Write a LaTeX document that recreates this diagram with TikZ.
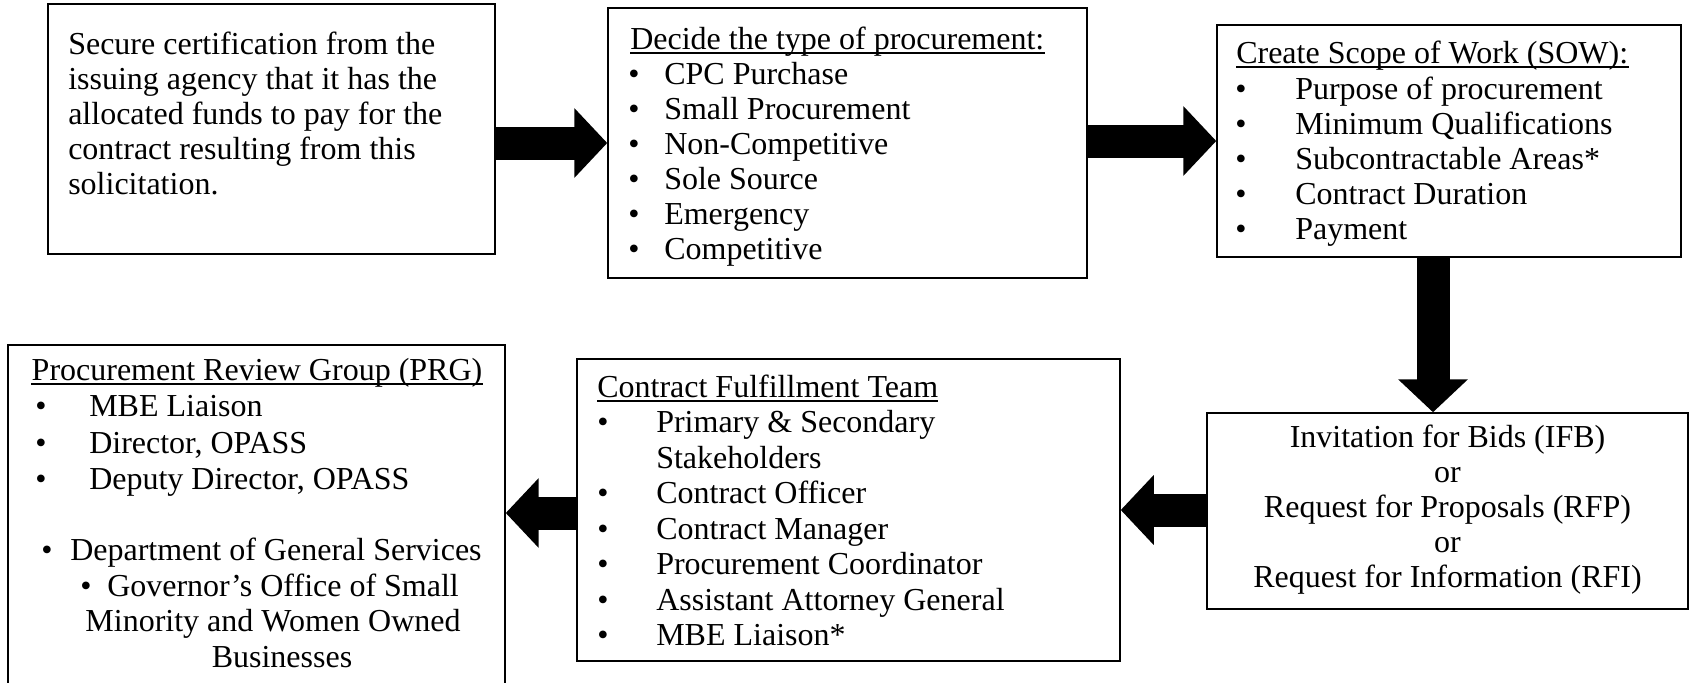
\documentclass[tikz,border=0pt]{standalone}
\usepackage{fontspec}
\setmainfont{Liberation Serif}
\usetikzlibrary{arrows.meta,fit,calc}
\tikzset{
  box/.style={draw, line width=1.1pt, inner sep=0pt},
  txt/.style={inner sep=0pt, font=\fontsize{24pt}{28pt}\selectfont, anchor=base west},
  ctxt/.style={txt, anchor=base},
  bul/.style={txt, anchor=base},
  ul/.style={line width=0.9pt},
  flow/.style={line width=24.75pt, -{Triangle[length=24.75pt,width=51pt]}},
}
\newcommand{\headline}[1]{\draw[ul] ([yshift=-3pt]#1.base west) -- ([yshift=-3pt]#1.base east);}
\begin{document}
\begin{tikzpicture}[x=0.75pt,y=-0.75pt]
\useasboundingbox (0,0) rectangle (1690,682);

% boxes
\node[box, fit={(48,4) (495,254)}] (b1) {};
\node[box, fit={(608,8) (1087,278)}] (b2) {};
\node[box, fit={(1217,25) (1681,257)}] (b3) {};
\node[box, fit={(1207,413) (1688,609)}] (b4) {};
\node[box, fit={(577,359) (1120,661)}] (b5) {};
\node[box, fit={(8,345) (505,692)}] (b6) {};

% certification
\node[txt] (t1a) at (68,54)  {Secure certification from the};
\node[txt] (t1b) at (68,89)  {issuing agency that it has the};
\node[txt] (t1c) at (68,124) {allocated funds to pay for the};
\node[txt] (t1d) at (68,159) {contract resulting from this};
\node[txt] (t1e) at (68,194) {solicitation.};

% type of procurement
\node[txt] (h2) at (630,49) {Decide the type of procurement:};
\headline{h2}
\foreach \yy/\lab [count=\i] in {84/CPC Purchase,119/Small Procurement,154/Non-Competitive,189/Sole Source,224/Emergency,259/Competitive}{
  \node[bul] (d2-\i) at (634,\yy) {•};
  \node[txt] (t2-\i) at (664,\yy) {\lab};
}

% scope of work
\node[txt] (h3) at (1236,63) {Create Scope of Work (SOW):};
\headline{h3}
\foreach \yy/\lab [count=\i] in {99/Purpose of procurement,134/Minimum Qualifications,169/Subcontractable Areas*,204/Contract Duration,239/Payment}{
  \node[bul] (d3-\i) at (1241,\yy) {•};
  \node[txt] (t3-\i) at (1295,\yy) {\lab};
}

% solicitation types
\node[ctxt] (t4a) at (1447.5,447) {Invitation for Bids (IFB)};
\node[ctxt] (t4b) at (1447.5,482) {or};
\node[ctxt] (t4c) at (1447.5,517) {Request for Proposals (RFP)};
\node[ctxt] (t4d) at (1447.5,552) {or};
\node[ctxt] (t4e) at (1447.5,587) {Request for Information (RFI)};

% contract fulfillment team
\node[txt] (h5) at (597,397) {Contract Fulfillment Team};
\headline{h5}
\node[bul] (d5-1) at (603,432.5) {•};
\node[txt] (t5-1) at (656,432.5) {Primary \& Secondary};
\node[txt] (t5-1b) at (656,468) {Stakeholders};
\foreach \yy/\lab [count=\i from 2] in {503.5/Contract Officer,539/Contract Manager,574.5/Procurement Coordinator,610/Assistant Attorney General,645.5/MBE Liaison*}{
  \node[bul] (d5-\i) at (603,\yy) {•};
  \node[txt] (t5-\i) at (656,\yy) {\lab};
}

% procurement review group
\node[ctxt] (h6) at (257,380) {Procurement Review Group (PRG)};
\headline{h6}
\foreach \yy/\lab [count=\i] in {416/MBE Liaison,453/{Director, OPASS},489.5/{Deputy Director, OPASS}}{
  \node[bul] (d6-\i) at (41,\yy) {•};
  \node[txt] (t6-\i) at (89,\yy) {\lab};
}
\node[bul] (d6-4) at (47,560.5) {•};
\node[txt] (t6-4) at (70,560.5) {Department of General Services};
\node[bul] (d6-5) at (86,596) {•};
\node[txt] (t6-5) at (107,596) {Governor’s Office of Small};
\node[ctxt] (t6-6) at (273,631.5) {Minority and Women Owned};
\node[ctxt] (t6-7) at (282,667) {Businesses};

% flow arrows
\coordinate (x3) at (1433,0);
\coordinate (s5) at ($(b5.west)+(0,3)$);
\draw[flow] (b1.east |- b2.west) -- (b2.west);
\draw[flow] (b2.east |- b3.west) -- (b3.west);
\draw[flow] (b3.south -| x3) -- (b4.north -| x3);
\draw[flow] (b4.west |- b5.east) -- (b5.east);
\draw[flow] (s5) -- (b6.east |- s5);
\end{tikzpicture}
\end{document}
